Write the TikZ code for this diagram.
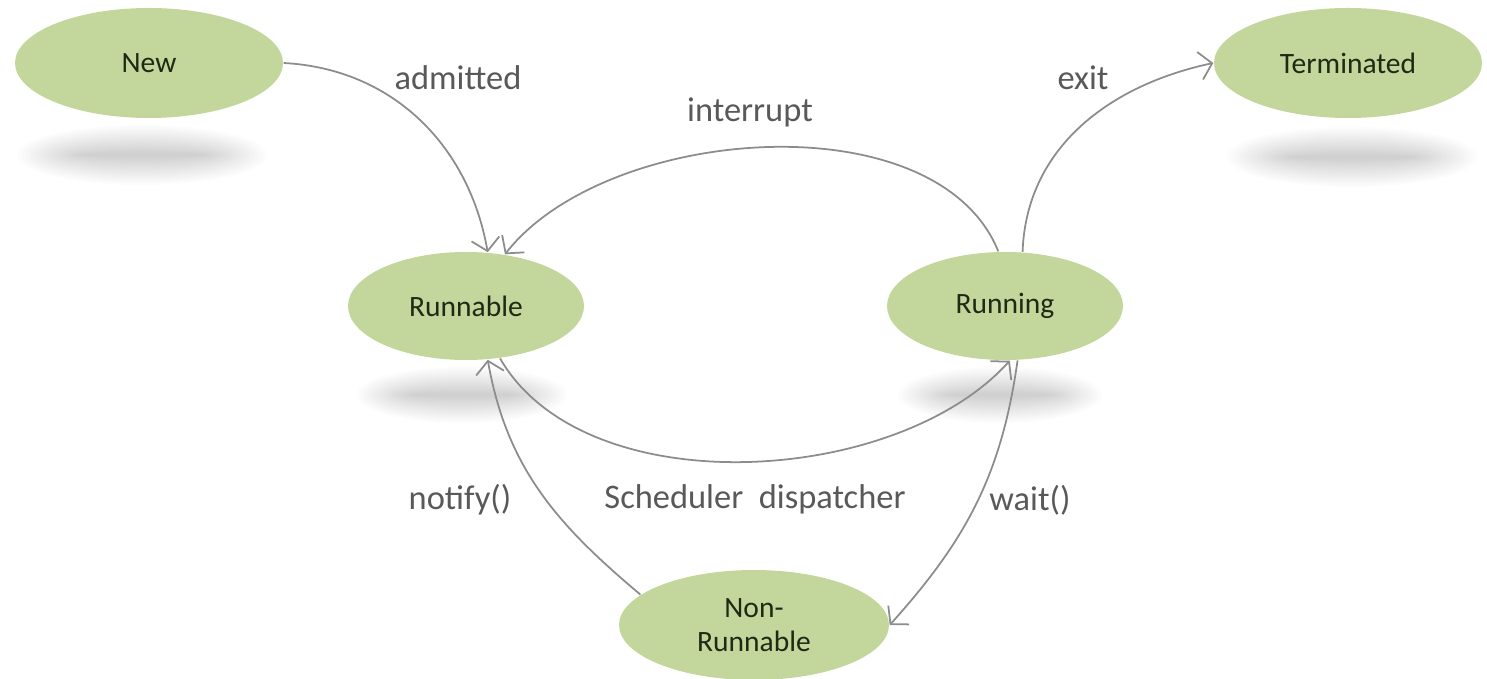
\documentclass[tikz,border=0pt]{standalone}
\usepackage{fontspec}
\setmainfont{Carlito}
\usetikzlibrary{shapes.geometric,arrows.meta}
\definecolor{statefill}{HTML}{C3D69B}
\definecolor{statetext}{HTML}{1E2A14}
\definecolor{edgegray}{HTML}{8C8C8C}
\definecolor{labelgray}{HTML}{595959}
% soft drop shadow: stacked translucent ellipses
\newcommand\softshadow[4]{%
  \foreach \k in {1,...,16}{%
    \fill[black,opacity=0.011] (#1,#2) ellipse [x radius={#3*(0.45+0.55*\k/16)}, y radius={#4*\k/16}];
  }%
}
\begin{document}
\begin{tikzpicture}[
  state/.style={ellipse, fill=statefill, draw=none, inner sep=0pt,
    text=statetext, font=\fontsize{8.4}{9.8}\selectfont, align=center},
  trans/.style={draw=edgegray, line width=0.5pt,
    -{Straight Barb[length=3.5pt,width=8pt]}},
  lbl/.style={text=labelgray, font=\fontsize{9.8}{11}\selectfont}
]
\useasboundingbox (0,0) rectangle (14.87,-6.79);

% shadows beneath the states
\softshadow{1.42}{-1.55}{1.25}{0.3}
\softshadow{13.52}{-1.57}{1.25}{0.3}
\softshadow{4.62}{-3.95}{1.05}{0.28}
\softshadow{10.0}{-3.95}{1.02}{0.28}

% states
\node[state, minimum width=2.68cm, minimum height=1.10cm] (new) at (1.49,-0.63) {New};
\node[state, minimum width=2.68cm, minimum height=1.10cm] (term) at (13.48,-0.63) {Terminated};
\node[state, minimum width=2.36cm, minimum height=1.08cm] (runnable) at (4.66,-3.06) {Runnable};
\node[state, minimum width=2.36cm, minimum height=1.08cm] (running) at (10.05,-3.06) {Running};
\node[state, minimum width=2.70cm, minimum height=1.10cm] (nonrun) at (7.54,-6.25) {Non-\\Runnable};

% transitions
\draw[trans] (new.east) to[out=-3, in=100] (runnable.68);
\draw[trans] (running.97) to[out=112, in=52, looseness=0.85] (runnable.53);
\draw[trans] (running.72) to[out=88, in=192] (term.west);
\draw[trans] (runnable.-57) to[out=-60, in=-132, looseness=0.85] (running.-85);
\draw[trans] (nonrun.165) to[out=140, in=-80] (runnable.-68);
\draw[trans] (running.-77) to[out=-98, in=48] (nonrun.east);

% labels
\node[lbl] (ladm) at (4.58,-0.78) {admitted};
\node[lbl] (lint) at (7.50,-1.12) {interrupt};
\node[lbl] (lexit) at (10.83,-0.78) {exit};
\node[lbl] (lsched) at (7.55,-4.99) {Scheduler\ \ dispatcher};
\node[lbl] (lnot) at (4.60,-5.00) {notify()};
\node[lbl] (lwait) at (10.30,-5.00) {wait()};
\end{tikzpicture}
\end{document}
